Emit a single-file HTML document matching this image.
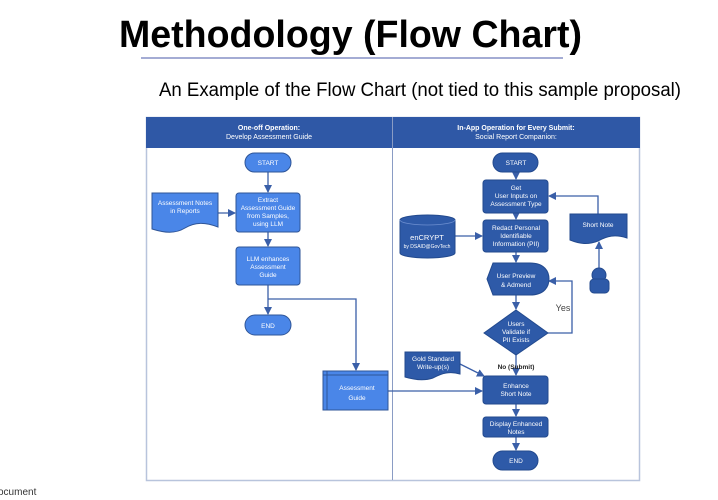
<!DOCTYPE html>
<html><head><meta charset="utf-8"><style>
html,body{margin:0;padding:0;background:#fff;}
svg{display:block;font-family:"Liberation Sans",Arial,sans-serif;}
</style></head><body>
<svg width="718" height="500" viewBox="0 0 718 500" xmlns="http://www.w3.org/2000/svg">
<defs>
<marker id="a" markerWidth="8" markerHeight="8" refX="7" refY="4" orient="auto" markerUnits="userSpaceOnUse"><path d="M0,0 L8,4 L0,8 z" fill="#3a5fa8"/></marker>
</defs>
<text x="119" y="47" font-size="38" font-weight="bold" textLength="463" lengthAdjust="spacingAndGlyphs">Methodology (Flow Chart)</text>
<line x1="141" y1="58" x2="563" y2="58" stroke="#4a5aa8" stroke-width="1"/>
<text x="159" y="96" font-size="19" textLength="522" lengthAdjust="spacingAndGlyphs">An Example of the Flow Chart (not tied to this sample proposal)</text>
<text x="-2" y="495" font-size="10" fill="#333">ocument</text>

<!-- frame -->
<rect x="146.5" y="117.5" width="493" height="363" fill="#fff" stroke="#b8c4dc" stroke-width="1.5"/>
<rect x="146" y="117" width="494" height="31" fill="#2f58a6"/>
<line x1="392.5" y1="117" x2="392.5" y2="480" stroke="#8a9cc4" stroke-width="1"/>
<g fill="#fff" font-size="7" text-anchor="middle">
<text x="269" y="130" font-weight="bold">One-off Operation:</text>
<text x="269" y="139">Develop Assessment Guide</text>
<text x="516" y="130" font-weight="bold">In-App Operation for Every Submit:</text>
<text x="516" y="139">Social Report Companion:</text>
</g>

<g stroke="#3a5fa8" stroke-width="1.3" fill="none">
<line x1="268" y1="172" x2="268" y2="192" marker-end="url(#a)"/>
<line x1="218" y1="213" x2="235" y2="213" marker-end="url(#a)"/>
<line x1="268" y1="232" x2="268" y2="246" marker-end="url(#a)"/>
<line x1="268" y1="285" x2="268" y2="314" marker-end="url(#a)"/>
<polyline points="268,299 356,299 356,370" marker-end="url(#a)"/>
<line x1="388" y1="391" x2="482" y2="391" marker-end="url(#a)"/>
<line x1="516" y1="172" x2="516" y2="179" marker-end="url(#a)"/>
<line x1="516" y1="213" x2="516" y2="219" marker-end="url(#a)"/>
<line x1="455" y1="236" x2="482" y2="236" marker-end="url(#a)"/>
<line x1="516" y1="252" x2="516" y2="262" marker-end="url(#a)"/>
<polyline points="598,214 598,196 549,196" marker-end="url(#a)"/>
<line x1="599" y1="268" x2="599" y2="242" marker-end="url(#a)"/>
<line x1="516" y1="295" x2="516" y2="309" marker-end="url(#a)"/>
<polyline points="548,333 572,333 572,281 549,281" marker-end="url(#a)"/>
<line x1="516" y1="355" x2="516" y2="375" marker-end="url(#a)"/>
<line x1="460" y1="364" x2="484" y2="376" marker-end="url(#a)"/>
<line x1="516" y1="404" x2="516" y2="416" marker-end="url(#a)"/>
<line x1="516" y1="437" x2="516" y2="450" marker-end="url(#a)"/>
</g>

<!-- left shapes -->
<g fill="#4a86e8" stroke="#2f5597" stroke-width="1">
<rect x="245" y="153" width="46" height="19" rx="9.5"/>
<rect x="236" y="193" width="64" height="39" rx="3"/>
<path d="M152,193 H218 V227 C205,222 195,222 185,228 C175,234 165,233 152,229 Z"/>
<rect x="236" y="247" width="64" height="38" rx="3"/>
<rect x="245" y="315" width="46" height="20" rx="10"/>
<rect x="323" y="371" width="65" height="39"/>
</g>
<g stroke="#2f5597" stroke-width="1"><line x1="323" y1="375" x2="388" y2="375"/><line x1="327" y1="371" x2="327" y2="410"/></g>
<g fill="#fff" font-size="6.5" text-anchor="middle">
<text x="268" y="165">START</text>
<text x="268" y="202">Extract</text><text x="268" y="210">Assessment Guide</text><text x="268" y="218">from Samples,</text><text x="268" y="226">using LLM</text>
<text x="185" y="205">Assessment Notes</text><text x="185" y="213">in Reports</text>
<text x="268" y="261">LLM enhances</text><text x="268" y="269">Assessment</text><text x="268" y="277">Guide</text>
<text x="268" y="328">END</text>
<text x="357" y="390">Assessment</text><text x="357" y="400">Guide</text>
</g>

<!-- right shapes -->
<g fill="#2e5aa8" stroke="#234a8e" stroke-width="1">
<rect x="493" y="153" width="45" height="19" rx="9.5"/>
<rect x="483" y="180" width="65" height="33" rx="3"/>
<rect x="483" y="220" width="65" height="32" rx="3"/>
<path d="M400,220 A27.5,5 0 0 1 455,220 V253 A27.5,5 0 0 1 400,253 Z"/>
<path d="M570,214 H627 V238 C615,234 607,236 598,241 C588,245 580,244 570,240 Z"/>
<path d="M493,263 H530 C545,263 549,272 549,279 C549,286 545,295 530,295 H493 L487,279 Z"/>
<path d="M516,310 L548,333 L516,355 L484,333 Z"/>
<path d="M405,352 H460 V374 C450,371 442,373 433,378 C424,381 415,380 405,377 Z"/>
<rect x="483" y="376" width="65" height="28" rx="3"/>
<rect x="483" y="417" width="65" height="20" rx="3"/>
<rect x="493" y="451" width="45" height="19" rx="9.5"/>
<circle cx="599" cy="275" r="7"/>
<rect x="590" y="279" width="19" height="14" rx="4"/>
</g>
<path d="M400,220 A27.5,5 0 0 0 455,220" fill="none" stroke="#6d8fd0" stroke-width="0.8"/>
<g fill="#fff" font-size="6.5" text-anchor="middle">
<text x="516" y="165">START</text>
<text x="516" y="190">Get</text><text x="516" y="198">User Inputs on</text><text x="516" y="206">Assessment Type</text>
<text x="516" y="230">Redact Personal</text><text x="516" y="238">Identifiable</text><text x="516" y="246">Information (PII)</text>
<text x="427" y="240" font-size="7.5">enCRYPT</text><text x="427" y="248" font-size="5">by DSAID@GovTech</text>
<text x="598" y="227">Short Note</text>
<text x="516" y="278">User Preview</text><text x="516" y="287">&amp; Admend</text>
<text x="516" y="326">Users</text><text x="516" y="334">Validate if</text><text x="516" y="342">PII Exists</text>
<text x="433" y="361">Gold Standard</text><text x="433" y="369">Write-up(s)</text>
<text x="516" y="388">Enhance</text><text x="516" y="396">Short Note</text>
<text x="516" y="426">Display Enhanced</text><text x="516" y="434">Notes</text>
<text x="516" y="463">END</text>
</g>
<text x="563" y="311" font-size="9" fill="#444" text-anchor="middle">Yes</text>
<text x="516" y="369" font-size="6.5" font-weight="bold" fill="#222" text-anchor="middle">No (Submit)</text>
</svg>
</body></html>
